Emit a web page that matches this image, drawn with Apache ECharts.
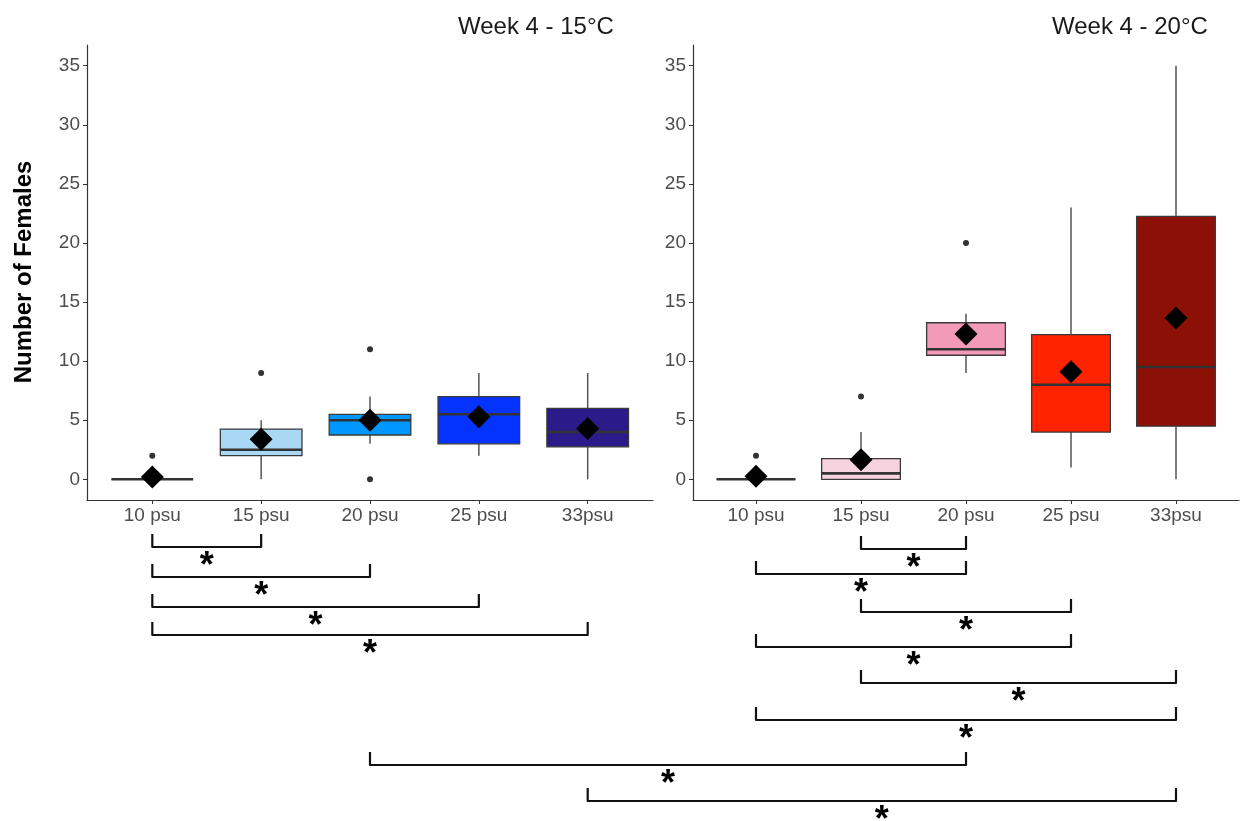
<!DOCTYPE html>
<html>
<head>
<meta charset="utf-8">
<script src="https://cdn.jsdelivr.net/npm/echarts@6/dist/echarts.min.js"></script>
<style>
  html, body { margin: 0; padding: 0; background: #fff; }
  #chart { width: 1243px; height: 821px; }
</style>
</head>
<body>
<div id="chart"></div>
<script>
const categories = ['10 psu', '15 psu', '20 psu', '25 psu', '33psu'];
const panelTitles = ['Week 4 - 15°C', 'Week 4 - 20°C'];
const yTicks = [0, 5, 10, 15, 20, 25, 30, 35];

// lower whisker, Q1, median, Q3, upper whisker
const boxes15 = [[0, 0, 0, 0, 0], [0, 2, 2.5, 4.25, 5], [3, 3.75, 5, 5.5, 7], [2, 3, 5.5, 7, 9], [0, 2.75, 4, 6, 9]];
const boxes20 = [[0, 0, 0, 0, 0], [0, 0, 0.5, 1.75, 4], [9, 10.5, 11, 13.25, 14], [1, 4, 8, 12.25, 23], [0, 4.5, 9.5, 22.25, 35]];
const means15 = [0.2, 3.4, 5.0, 5.3, 4.3];
const means20 = [0.25, 1.65, 12.3, 9.1, 13.65];
const outliers15 = [['10 psu', 2], ['15 psu', 9], ['20 psu', 0], ['20 psu', 11]];
const outliers20 = [['10 psu', 2], ['15 psu', 7], ['20 psu', 20]];

// significant pairs: [panel, category, panel, category]
const comparisons = [
  [0, '10 psu', 0, '15 psu'], [0, '10 psu', 0, '20 psu'], [0, '10 psu', 0, '25 psu'], [0, '10 psu', 0, '33psu'],
  [1, '15 psu', 1, '20 psu'], [1, '10 psu', 1, '20 psu'], [1, '15 psu', 1, '25 psu'], [1, '10 psu', 1, '25 psu'],
  [1, '15 psu', 1, '33psu'], [1, '10 psu', 1, '33psu'],
  [0, '20 psu', 1, '20 psu'], [0, '33psu', 1, '33psu']
];
const comparisonLabels = ['*', '*', '*', '*', '*', '*', '*', '*', '*', '*', '*', '*'];

// styles / layout
const colors15 = ['#a9d8f5', '#a9d8f5', '#0096ff', '#0433ff', '#2b1a8a'];
const colors20 = ['#f7d3e0', '#f7d3e0', '#f49ab9', '#ff2300', '#8c1005'];
const bracketY = [547, 577, 607, 635, 549, 574, 612, 647, 683, 720, 765, 801];
const FONT = '"Liberation Sans", Arial, sans-serif';

const chart = echarts.init(document.getElementById('chart'));

function boxRenderer(colors) {
  return function (params, api) {
    const x = api.value(0);
    const half = 0.375;
    const hi = api.coord([x, api.value(5)]);
    const q3 = api.coord([x, api.value(4)]);
    const q1 = api.coord([x, api.value(2)]);
    const lo = api.coord([x, api.value(1)]);
    const tl = api.coord([x - half, api.value(4)]);
    const br = api.coord([x + half, api.value(2)]);
    const ml = api.coord([x - half, api.value(3)]);
    const mr = api.coord([x + half, api.value(3)]);
    const whisker = {stroke: '#555', lineWidth: 1.5};
    return {
      type: 'group',
      children: [
        {type: 'line', shape: {x1: hi[0], y1: hi[1], x2: q3[0], y2: q3[1]}, style: whisker},
        {type: 'line', shape: {x1: lo[0], y1: lo[1], x2: q1[0], y2: q1[1]}, style: whisker},
        {type: 'rect', shape: {x: tl[0], y: tl[1], width: br[0] - tl[0], height: br[1] - tl[1]},
          style: {fill: colors[params.dataIndex], stroke: '#3a3a3a', lineWidth: 1.3}},
        {type: 'line', shape: {x1: ml[0], y1: ml[1], x2: mr[0], y2: mr[1]}, style: {stroke: '#333', lineWidth: 2.6}}
      ]
    };
  };
}

function xAxis(gridIndex) {
  return {
    gridIndex, type: 'value', min: 0.4, max: 5.6,
    axisLine: {onZero: false, lineStyle: {color: '#333', width: 1.2}},
    axisTick: {customValues: [1, 2, 3, 4, 5], length: 4, lineStyle: {color: '#333'}},
    axisLabel: {customValues: [1, 2, 3, 4, 5], formatter: v => categories[Math.round(v) - 1],
      color: '#4d4d4d', fontSize: 19, fontFamily: FONT, margin: 6},
    splitLine: {show: false}
  };
}

function yAxis(gridIndex) {
  return {
    gridIndex, type: 'value', min: -1.75, max: 36.75,
    axisLine: {show: true, onZero: false, lineStyle: {color: '#333', width: 1.2}},
    axisTick: {show: true, customValues: yTicks, length: 4, lineStyle: {color: '#333'}},
    axisLabel: {customValues: yTicks, color: '#4d4d4d', fontSize: 19, fontFamily: FONT, margin: 7},
    splitLine: {show: false}
  };
}

const catIndex = c => categories.indexOf(c) + 1;

function panelSeries(i, boxes, means, outliers, colors) {
  return [
    {
      type: 'custom', xAxisIndex: i, yAxisIndex: i,
      renderItem: boxRenderer(colors),
      encode: {x: 0, y: [1, 2, 3, 4, 5]},
      data: boxes.map((b, k) => [k + 1, ...b]),
      z: 2
    },
    {
      type: 'scatter', xAxisIndex: i, yAxisIndex: i,
      symbol: 'circle', symbolSize: 6,
      itemStyle: {color: '#333', opacity: 1},
      data: outliers.map(([c, v]) => [catIndex(c), v]),
      z: 3
    },
    {
      type: 'scatter', xAxisIndex: i, yAxisIndex: i,
      symbol: 'diamond', symbolSize: 23,
      itemStyle: {color: '#000', opacity: 1},
      data: means.map((m, k) => [k + 1, m]),
      z: 4
    }
  ];
}

chart.setOption({
  animation: false,
  backgroundColor: '#fff',
  title: [
    {text: panelTitles[0], left: 458, top: 15, padding: 0,
      textStyle: {fontSize: 24, fontWeight: 'normal', color: '#1a1a1a', fontFamily: FONT}},
    {text: panelTitles[1], left: 1052, top: 15, padding: 0,
      textStyle: {fontSize: 24, fontWeight: 'normal', color: '#1a1a1a', fontFamily: FONT}}
  ],
  grid: [
    {left: 87, top: 45, width: 566, height: 455},
    {left: 693, top: 45, width: 546, height: 455}
  ],
  xAxis: [xAxis(0), xAxis(1)],
  yAxis: [yAxis(0), yAxis(1)],
  series: [
    ...panelSeries(0, boxes15, means15, outliers15, colors15),
    ...panelSeries(1, boxes20, means20, outliers20, colors20)
  ]
});

// significance brackets below the panels, x from the panels' own axes
const graphics = [{
  type: 'text', x: 24, y: 272, rotation: Math.PI / 2,
  style: {text: 'Number of Females', font: 'bold 24px ' + FONT, fill: '#000', align: 'center', verticalAlign: 'middle'}
}];
comparisons.forEach(([pa, ca, pb, cb], k) => {
  const x1 = chart.convertToPixel({xAxisIndex: pa}, catIndex(ca));
  const x2 = chart.convertToPixel({xAxisIndex: pb}, catIndex(cb));
  const y = bracketY[k];
  graphics.push({
    type: 'polyline',
    shape: {points: [[x1, y - 13], [x1, y], [x2, y], [x2, y - 13]]},
    style: {stroke: '#111', lineWidth: 2.2, fill: null, lineJoin: 'round'}
  });
  graphics.push({
    type: 'text', x: (x1 + x2) / 2, y: y + 20,
    style: {text: comparisonLabels[k], font: 'bold 36px ' + FONT, fill: '#000', align: 'center', verticalAlign: 'middle'}
  });
});
chart.setOption({graphic: graphics});
</script>
</body>
</html>
